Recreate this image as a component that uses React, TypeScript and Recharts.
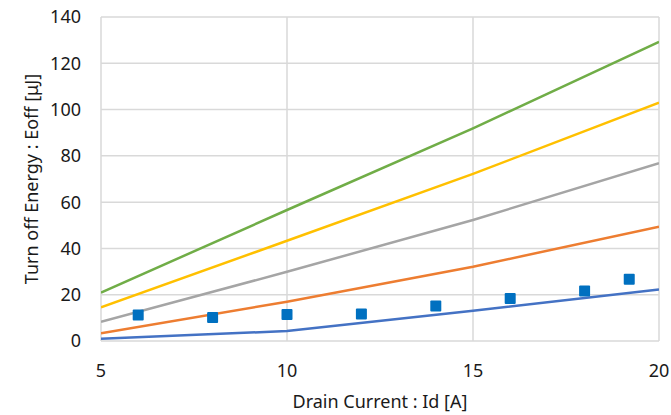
import { ComposedChart, Line, Scatter, XAxis, YAxis, CartesianGrid } from 'recharts';

// drain current points where the model curves are evaluated [A]
const currents = [5, 10, 15, 20];

// modelled turn-off energy curves [uJ], top to bottom
const eoffCurve1 = [20.9, 56.6, 91.9, 129.3];
const eoffCurve2 = [14.6, 43.3, 72.2, 103];
const eoffCurve3 = [8.3, 29.9, 52.3, 76.8];
const eoffCurve4 = [3.3, 17.0, 32.1, 49.4];
const eoffCurve5 = [1.0, 4.3, 13.1, 22.3];

// measured points
const measuredId = [6, 8, 10, 12, 14, 16, 18, 19.2];
const measuredEoff = [11.2, 10.2, 11.5, 11.7, 15.1, 18.4, 21.6, 26.7];

const yTicks = [0, 20, 40, 60, 80, 100, 120, 140];
const xTicks = [5, 10, 15, 20];

const curves = [
  { name: 'curve1', values: eoffCurve1, color: '#70AD47' },
  { name: 'curve2', values: eoffCurve2, color: '#FFC000' },
  { name: 'curve3', values: eoffCurve3, color: '#A5A5A5' },
  { name: 'curve4', values: eoffCurve4, color: '#ED7D31' },
  { name: 'curve5', values: eoffCurve5, color: '#4472C4' },
];

const toPoints = (xs: number[], ys: number[]) => xs.map((x, i) => ({ x, y: ys[i] }));

const measured = toPoints(measuredId, measuredEoff);

const font = '"Noto Sans", sans-serif';
const textColor = '#1a1a1a';
const fontSize = 18;

function SquareMarker(props: any) {
  const { cx, cy } = props;
  const s = 11;
  return <rect x={cx - s / 2} y={cy - s / 2} width={s} height={s} rx={1} fill="#0070C0" />;
}

export default function App() {
  return (
    <div style={{ position: 'absolute', left: 0, top: 0, width: 671, height: 415, background: '#fff' }}>
      <ComposedChart width={671} height={415} margin={{ top: 17, right: 12, left: 0, bottom: 0 }}>
        <CartesianGrid stroke="#D9D9D9" strokeWidth={1.5} />
        <XAxis
          dataKey="x"
          type="number"
          domain={[5, 20]}
          ticks={xTicks}
          height={74}
          axisLine={false}
          tickLine={false}
          tickSize={0}
          tickMargin={23}
          tick={{ fill: textColor, fontSize, fontFamily: font }}
          allowDataOverflow
          label={{
            value: 'Drain Current : Id [A]',
            position: 'insideBottom',
            offset: 7,
            fill: textColor,
            fontSize,
            fontFamily: font,
          }}
        />
        <YAxis
          type="number"
          domain={[0, 140]}
          ticks={yTicks}
          width={101}
          axisLine={false}
          tickLine={false}
          tickSize={0}
          tickMargin={20}
          tick={{ fill: textColor, fontSize, fontFamily: font }}
          label={{
            value: 'Turn off Energy : Eoff [μJ]',
            angle: -90,
            position: 'insideLeft',
            offset: 32,
            textAnchor: 'middle',
            fill: textColor,
            fontSize,
            fontFamily: font,
          }}
        />
        {curves.map((c) => (
          <Line
            key={c.name}
            data={toPoints(currents, c.values)}
            dataKey="y"
            type="linear"
            stroke={c.color}
            strokeWidth={2.5}
            dot={false}
            activeDot={false}
            isAnimationActive={false}
          />
        ))}
        <Scatter data={measured} dataKey="y" shape={<SquareMarker />} isAnimationActive={false} />
      </ComposedChart>
    </div>
  );
}
